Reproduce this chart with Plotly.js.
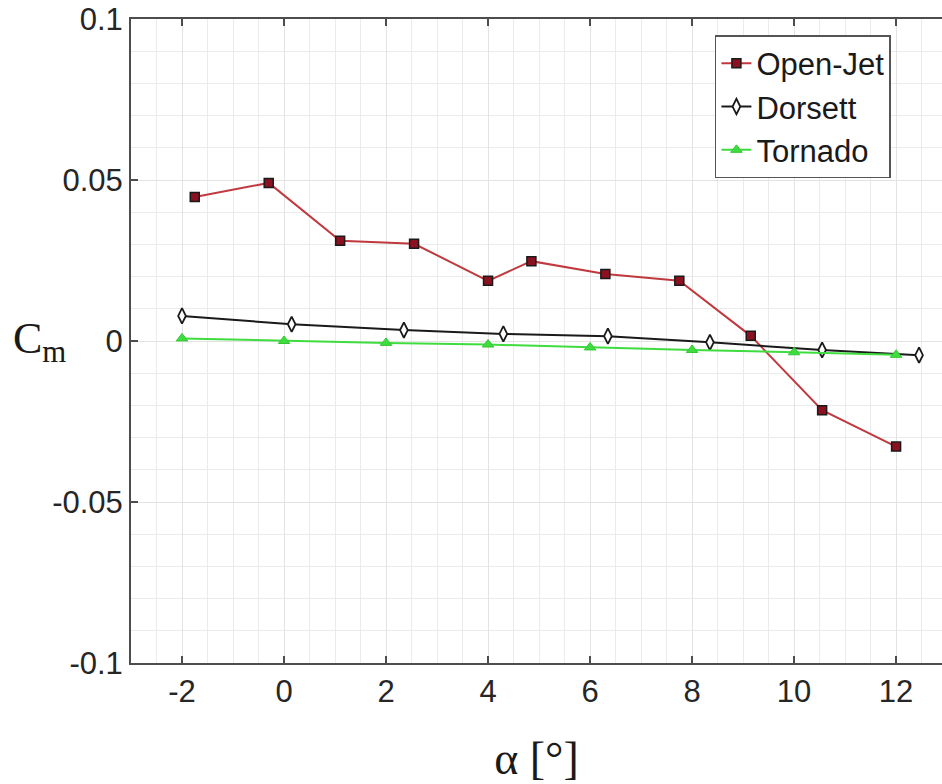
<!DOCTYPE html>
<html>
<head>
<meta charset="utf-8">
<script src="https://cdn.plot.ly/plotly-3.0.1.min.js"></script>
<style>html,body{margin:0;padding:0;background:#fff;}#chart{width:942px;height:784px;}</style>
</head>
<body>
<div id="chart"></div>
<script>
const openJetAlpha = [-1.75, -0.3, 1.1, 2.55, 4.0, 4.85, 6.3, 7.75, 9.15, 10.55, 12.0];
const openJetCm    = [0.0447, 0.0491, 0.0311, 0.0302, 0.0187, 0.0248, 0.0208, 0.0187, 0.0016, -0.0215, -0.0328];
const dorsettAlpha = [-2.0, 0.15, 2.35, 4.3, 6.35, 8.35, 10.55, 12.45];
const dorsettCm    = [0.0078, 0.0052, 0.0034, 0.0022, 0.0015, -0.0004, -0.0028, -0.0044];
const tornadoAlpha = [-2, 0, 2, 4, 6, 8, 10, 12];
const tornadoCm    = [0.0008, 0.0, -0.0006, -0.0011, -0.0020, -0.0028, -0.0035, -0.0043];
const xTickVals = [-2, 0, 2, 4, 6, 8, 10, 12];
const xTickText = ['-2', '0', '2', '4', '6', '8', '10', '12'];
const yTickVals = [-0.1, -0.05, 0, 0.05, 0.1];
const yTickText = ['-0.1', '-0.05', '0', '0.05', '0.1'];

const traces = [
  {x: openJetAlpha, y: openJetCm, name: 'Open-Jet', mode: 'lines+markers', type: 'scatter',
   line: {color: '#c0393f', width: 2},
   marker: {symbol: 'square', size: 9, color: '#8b1020', line: {color: '#1a1a1a', width: 1.5}}},
  {x: dorsettAlpha, y: dorsettCm, name: 'Dorsett', mode: 'lines+markers', type: 'scatter',
   line: {color: '#1a1a1a', width: 2},
   marker: {symbol: 'diamond-tall', size: 11, color: '#ffffff', line: {color: '#1a1a1a', width: 1.8}}},
  {x: tornadoAlpha, y: tornadoCm, name: 'Tornado', mode: 'lines+markers', type: 'scatter',
   line: {color: '#3fdc3f', width: 2},
   marker: {symbol: 'triangle-up', size: 10, color: '#3fdc3f', line: {color: '#33c833', width: 1}}}
];

const layout = {
  width: 942, height: 784,
  margin: {l: 131, r: 0, t: 19, b: 121},
  paper_bgcolor: '#ffffff', plot_bgcolor: '#ffffff',
  font: {family: 'Liberation Sans, Arial, sans-serif', color: '#262626'},
  showlegend: true,
  legend: {x: 0.720, y: 0.975, xanchor: 'left', yanchor: 'top',
           bordercolor: '#555555', borderwidth: 1.5, bgcolor: '#ffffff',
           font: {size: 31, color: '#1a1a1a'}, tracegroupgap: 0, itemwidth: 30},
  xaxis: {range: [-3, 12.9], tickvals: xTickVals, ticktext: xTickText, ticks: 'inside', ticklen: 7, tickwidth: 1.5,
          tickcolor: '#4d4d4d', showline: true, linecolor: '#4d4d4d', linewidth: 2, mirror: 'ticks',
          showgrid: true, gridcolor: '#e3e3e3', gridwidth: 1, zeroline: false,
          minor: {dtick: 0.5, showgrid: true, gridcolor: '#ebebeb', gridwidth: 1},
          tickfont: {size: 31, color: '#262626'},
          title: {text: 'α [°]', font: {family: 'Liberation Serif, Times New Roman, serif', size: 46, color: '#1a1a1a'}, standoff: 34}},
  yaxis: {range: [-0.1, 0.1], tickvals: yTickVals, ticktext: yTickText, ticks: 'inside', ticklen: 7, tickwidth: 1.5,
          tickcolor: '#4d4d4d', showline: true, linecolor: '#4d4d4d', linewidth: 2, mirror: false,
          showgrid: true, gridcolor: '#e3e3e3', gridwidth: 1, zeroline: false,
          minor: {dtick: 0.01, showgrid: true, gridcolor: '#ebebeb', gridwidth: 1},
          tickfont: {size: 31, color: '#262626'}},
  annotations: [{text: 'C<sub>m</sub>', xref: 'paper', yref: 'paper', x: -0.148, y: 0.5, xanchor: 'left', yanchor: 'middle',
                 showarrow: false, font: {family: 'Liberation Serif, Times New Roman, serif', size: 44, color: '#1a1a1a'}}]
};

Plotly.newPlot('chart', traces, layout, {displayModeBar: false, staticPlot: true});
</script>
</body>
</html>
